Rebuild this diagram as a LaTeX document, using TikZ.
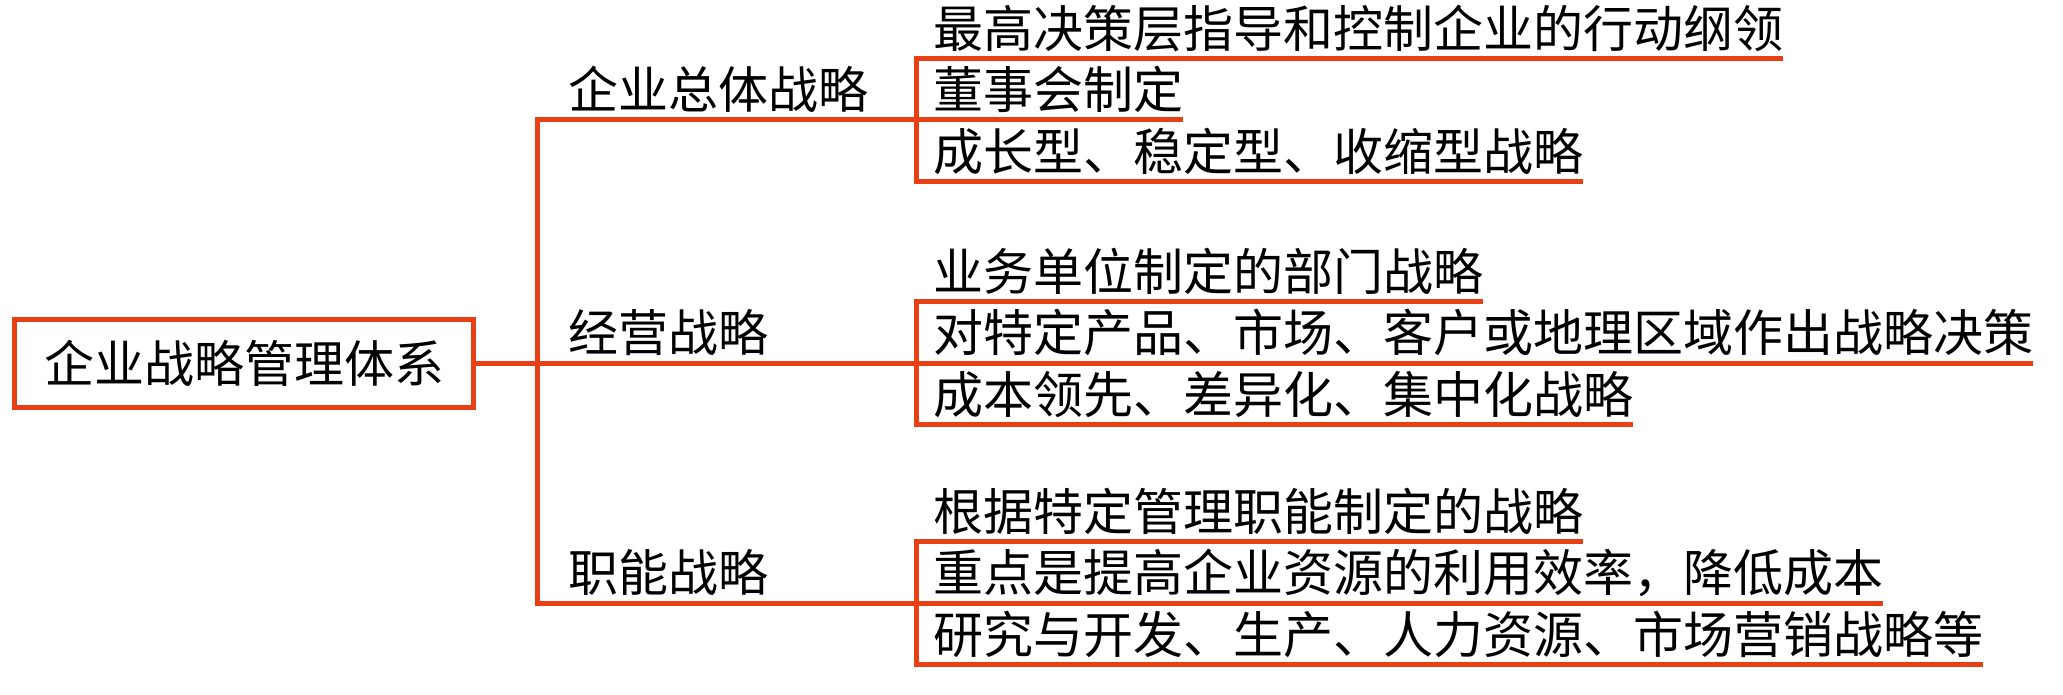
\documentclass[tikz,border=0pt]{standalone}
\usepackage{fontspec}
\setmainfont{Noto Sans CJK SC}
\usetikzlibrary{positioning}
\definecolor{brline}{RGB}{232,64,20}
\tikzstyle{rootbox} = [rectangle, 
			draw=brline, 
			line width=5pt, 
			text centered, 
			minimum width=459pt, 
			minimum height=88pt]
\tikzstyle{item} = [rectangle, 
			inner xsep=0pt, 
			inner ysep=11pt, 
			text height=39pt, 
			text depth=0pt]
\tikzstyle{link} = [draw=brline, 
			line width=5pt]

\begin{document}
\begin{tikzpicture}[x=1pt, y=-1pt, node distance=0pt, font=\fontsize{50pt}{60pt}\selectfont]
	\useasboundingbox (0,0) rectangle (2063,695);
	\node [rootbox] (system) at (244,363) {企业战略管理体系};
	% trunk and branch ends
	\coordinate (t1) at (537,120);
	\coordinate (t2) at (537,363);
	\coordinate (t3) at (537,603);
	\coordinate (b1) at (916,120);
	\coordinate (b2) at (916,363);
	\coordinate (b3) at (916,603);
	\node [item, above right=0pt and 31pt of t1] (overall) {企业总体战略};
	\node [item, above right=0pt and 31pt of t2] (business) {经营战略};
	\node [item, above right=0pt and 31pt of t3] (function) {职能战略};
	% group 1
	\node [item, above right=0pt and 17pt of b1] (o2) {董事会制定};
	\node [item, above right=0pt and 0pt of o2.north west] (o1) {最高决策层指导和控制企业的行动纲领};
	\node [item, below right=0pt and 0pt of o2.south west] (o3) {成长型、稳定型、收缩型战略};
	% group 2
	\node [item, above right=0pt and 17pt of b2] (s2) {对特定产品、市场、客户或地理区域作出战略决策};
	\node [item, above right=0pt and 0pt of s2.north west] (s1) {业务单位制定的部门战略};
	\node [item, below right=0pt and 0pt of s2.south west] (s3) {成本领先、差异化、集中化战略};
	% group 3
	\node [item, above right=0pt and 17pt of b3] (f2) {重点是提高企业资源的利用效率，降低成本};
	\node [item, above right=0pt and 0pt of f2.north west] (f1) {根据特定管理职能制定的战略};
	\node [item, below right=0pt and 0pt of f2.south west] (f3) {研究与开发、生产、人力资源、市场营销战略等};
	\draw [link] (system.east) -- (s2.south east);
	\draw [link] (o2.south east) -- (t1) -- (t3) -- (f2.south east);
	\draw [link] (o1.south east) -- (b1 |- o1.south) -- (b1 |- o3.south) -- (o3.south east);
	\draw [link] (s1.south east) -- (b2 |- s1.south) -- (b2 |- s3.south) -- (s3.south east);
	\draw [link] (f1.south east) -- (b3 |- f1.south) -- (b3 |- f3.south) -- (f3.south east);
\end{tikzpicture}
\end{document}
